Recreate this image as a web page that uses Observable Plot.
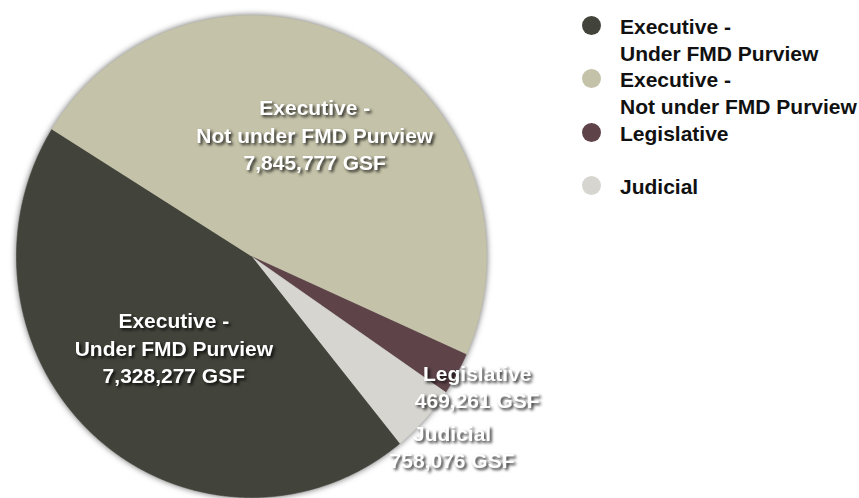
<!DOCTYPE html>
<html><head><meta charset="utf-8">
<script src="https://cdn.jsdelivr.net/npm/d3@7"></script>
<script src="https://cdn.jsdelivr.net/npm/@observablehq/plot@0.6"></script>
<style>
body{margin:0;background:#fff;}
#wrap{position:relative;width:859px;height:498px;overflow:hidden;}
#chart{position:absolute;left:0;top:0;}
#legend{position:absolute;left:582px;top:14px;font-family:"Liberation Sans Narrow","Arial Narrow",sans-serif;font-weight:bold;font-size:21px;line-height:26.7px;color:#111;}
.item{display:flex;align-items:flex-start;}
.sw{width:19px;height:19px;border-radius:50%;margin-top:2px;margin-right:19px;flex:none;}
.gap{height:26.7px;}
#chart g[aria-label="line"]{filter:drop-shadow(0 0 3px rgba(0,0,0,0.6));}
#chart g[aria-label="text"]{filter:drop-shadow(2px 2px 1.5px rgba(0,0,0,0.8));}
</style>
</head><body>
<div id="wrap"><div id="chart"></div><div id="legend"></div></div>
<script>
const categories = ["Executive - Under FMD Purview", "Executive - Not under FMD Purview", "Legislative", "Judicial"];
const labelLines = [["Executive -", "Under FMD Purview"], ["Executive -", "Not under FMD Purview"], ["Legislative"], ["Judicial"]];
const values = [7328277, 7845777, 469261, 758076];
const colors = ["#42433a", "#c4c2a8", "#5e4349", "#d6d5d0"];
const clockwiseOrder = ["Executive - Not under FMD Purview", "Legislative", "Judicial", "Executive - Under FMD Purview"];
const startAngleDeg = 301.8;

const rows = categories.map((c, i) => ({name: c, lines: labelLines[i], value: values[i], color: colors[i]}));
const ordered = clockwiseOrder.map(n => rows.find(r => r.name === n));
const a0 = startAngleDeg * Math.PI / 180;
const arcs = d3.pie().sort(null).value(d => d.value).startAngle(a0).endAngle(a0 + 2 * Math.PI)(ordered);

const pts = [];
for (const a of arcs) {
  pts.push({name: a.data.name, x: 0, y: 0});
  const n = Math.max(4, Math.ceil((a.endAngle - a.startAngle) / 0.005));
  for (let k = 0; k <= n; k++) {
    const t = a.startAngle + (a.endAngle - a.startAngle) * k / n;
    pts.push({name: a.data.name, x: Math.sin(t), y: Math.cos(t)});
  }
}
const fmt = d3.format(",");
// label distance from centre, as a fraction of the radius (layout only)
const labelRadius = {
  "Executive - Not under FMD Purview": 0.575,
  "Executive - Under FMD Purview": 0.5,
  "Legislative": 1.10,
  "Judicial": 1.16
};
const labels = arcs.map(a => {
  const m = (a.startAngle + a.endAngle) / 2;
  const r = labelRadius[a.data.name];
  return {x: Math.sin(m) * r, y: Math.cos(m) * r, text: [...a.data.lines, fmt(a.data.value) + " GSF"].join("\n")};
});

const font = '"Liberation Sans Narrow","Arial Narrow",sans-serif';
const chart = Plot.plot({
  width: 575, height: 498,
  marginTop: 0, marginBottom: 0, marginLeft: 0, marginRight: 0,
  x: {domain: [-1, 1], range: [16, 486], axis: null},
  y: {domain: [-1, 1], range: [497, 15], axis: null},
  color: {domain: categories, range: colors},
  style: {background: "transparent", overflow: "visible"},
  marks: [
    Plot.line(pts, {x: "x", y: "y", z: "name", fill: "name", stroke: "name", strokeWidth: 0.6}),
    Plot.text(labels, {x: "x", y: "y", text: "text", fill: "white", fontSize: 21, fontWeight: "bold", fontFamily: font, lineHeight: 1.3})
  ]
});
document.getElementById("chart").appendChild(chart);

const leg = document.getElementById("legend");
rows.forEach((r, i) => {
  if (i === 3) { const g = document.createElement("div"); g.className = "gap"; leg.appendChild(g); }
  const it = document.createElement("div"); it.className = "item";
  const sw = document.createElement("div"); sw.className = "sw"; sw.style.background = r.color;
  const tx = document.createElement("div"); tx.innerHTML = r.lines.join("<br>");
  it.appendChild(sw); it.appendChild(tx); leg.appendChild(it);
});
</script>
</body></html>
